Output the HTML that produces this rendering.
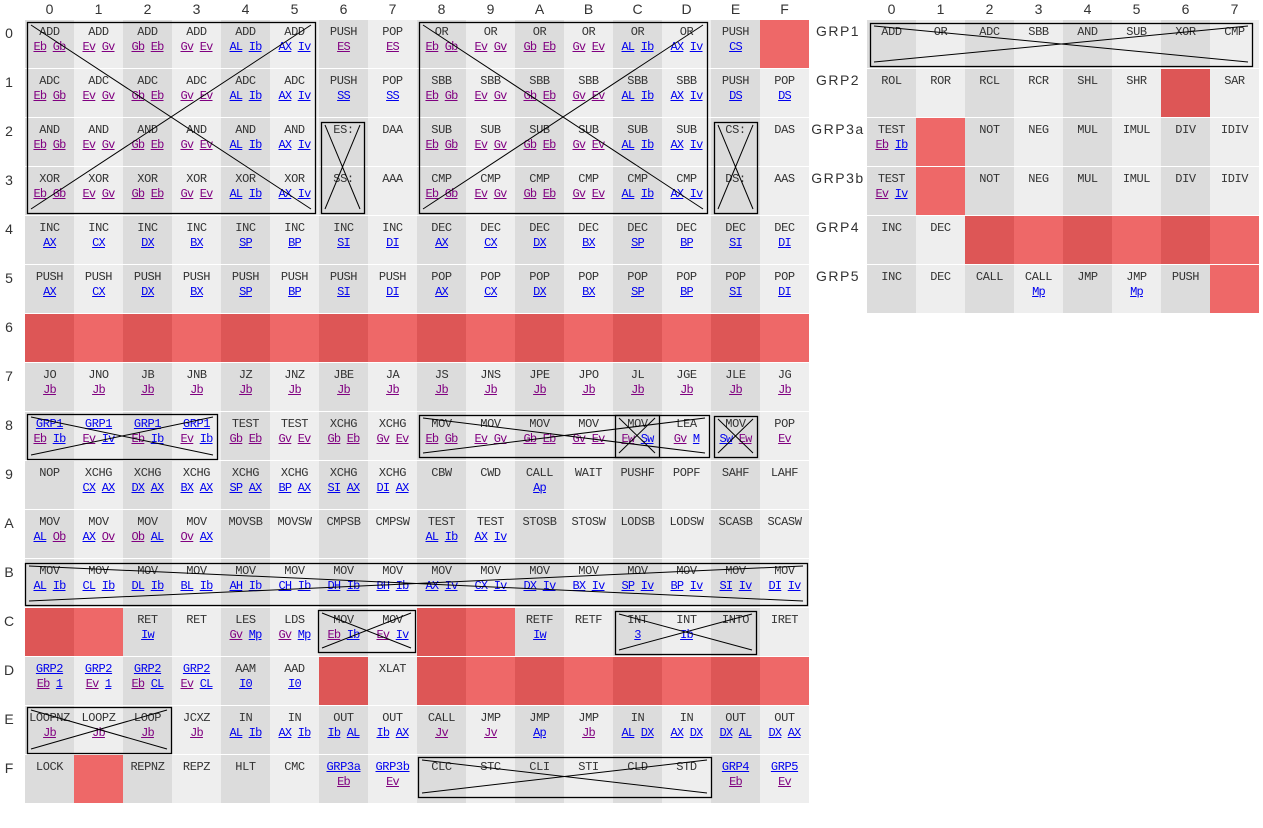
<!DOCTYPE html>
<html><head><meta charset="utf-8"><style>
body{margin:0;background:#fff;width:1263px;height:828px;position:relative;overflow:hidden;font-family:"Liberation Mono",monospace}
.c{position:absolute;width:49px;height:48px;text-align:center;color:#333;font-size:12px;line-height:15px}
.c .m{position:absolute;top:5px;left:0;width:49px;white-space:nowrap;letter-spacing:-0.4px}
.c .o{position:absolute;top:20px;left:0;width:49px;white-space:nowrap;letter-spacing:-0.8px}
.c a{text-decoration:underline;color:#0000ee}
.c a.p{color:#800080}
.h{position:absolute;font-family:"Liberation Sans",sans-serif;font-size:14px;color:#333;text-align:center}
svg{position:absolute;left:0;top:0}
</style></head><body>
<div id="root"></div>
<svg id="ov" width="1263" height="828"></svg>
<script>
const mainRows=[
["ADD Eb Gb","ADD Ev Gv","ADD Gb Eb","ADD Gv Ev","ADD AL Ib","ADD AX Iv","PUSH ES","POP ES","OR Eb Gb","OR Ev Gv","OR Gb Eb","OR Gv Ev","OR AL Ib","OR AX Iv","PUSH CS","#"],
["ADC Eb Gb","ADC Ev Gv","ADC Gb Eb","ADC Gv Ev","ADC AL Ib","ADC AX Iv","PUSH SS","POP SS","SBB Eb Gb","SBB Ev Gv","SBB Gb Eb","SBB Gv Ev","SBB AL Ib","SBB AX Iv","PUSH DS","POP DS"],
["AND Eb Gb","AND Ev Gv","AND Gb Eb","AND Gv Ev","AND AL Ib","AND AX Iv","ES:","DAA","SUB Eb Gb","SUB Ev Gv","SUB Gb Eb","SUB Gv Ev","SUB AL Ib","SUB AX Iv","CS:","DAS"],
["XOR Eb Gb","XOR Ev Gv","XOR Gb Eb","XOR Gv Ev","XOR AL Ib","XOR AX Iv","SS:","AAA","CMP Eb Gb","CMP Ev Gv","CMP Gb Eb","CMP Gv Ev","CMP AL Ib","CMP AX Iv","DS:","AAS"],
["INC AX","INC CX","INC DX","INC BX","INC SP","INC BP","INC SI","INC DI","DEC AX","DEC CX","DEC DX","DEC BX","DEC SP","DEC BP","DEC SI","DEC DI"],
["PUSH AX","PUSH CX","PUSH DX","PUSH BX","PUSH SP","PUSH BP","PUSH SI","PUSH DI","POP AX","POP CX","POP DX","POP BX","POP SP","POP BP","POP SI","POP DI"],
["#","#","#","#","#","#","#","#","#","#","#","#","#","#","#","#"],
["JO Jb","JNO Jb","JB Jb","JNB Jb","JZ Jb","JNZ Jb","JBE Jb","JA Jb","JS Jb","JNS Jb","JPE Jb","JPO Jb","JL Jb","JGE Jb","JLE Jb","JG Jb"],
["*GRP1 Eb Ib","*GRP1 Ev Iv","*GRP1 Eb Ib","*GRP1 Ev Ib","TEST Gb Eb","TEST Gv Ev","XCHG Gb Eb","XCHG Gv Ev","MOV Eb Gb","MOV Ev Gv","MOV Gb Eb","MOV Gv Ev","MOV Ew Sw","LEA Gv M","MOV Sw Ew","POP Ev"],
["NOP","XCHG CX AX","XCHG DX AX","XCHG BX AX","XCHG SP AX","XCHG BP AX","XCHG SI AX","XCHG DI AX","CBW","CWD","CALL Ap","WAIT","PUSHF","POPF","SAHF","LAHF"],
["MOV AL Ob","MOV AX Ov","MOV Ob AL","MOV Ov AX","MOVSB","MOVSW","CMPSB","CMPSW","TEST AL Ib","TEST AX Iv","STOSB","STOSW","LODSB","LODSW","SCASB","SCASW"],
["MOV AL Ib","MOV CL Ib","MOV DL Ib","MOV BL Ib","MOV AH Ib","MOV CH Ib","MOV DH Ib","MOV BH Ib","MOV AX Iv","MOV CX Iv","MOV DX Iv","MOV BX Iv","MOV SP Iv","MOV BP Iv","MOV SI Iv","MOV DI Iv"],
["#","#","RET Iw","RET","LES Gv Mp","LDS Gv Mp","MOV Eb Ib","MOV Ev Iv","#","#","RETF Iw","RETF","INT 3","INT Ib","INTO","IRET"],
["*GRP2 Eb 1","*GRP2 Ev 1","*GRP2 Eb CL","*GRP2 Ev CL","AAM I0","AAD I0","#","XLAT","#","#","#","#","#","#","#","#"],
["LOOPNZ Jb","LOOPZ Jb","LOOP Jb","JCXZ Jb","IN AL Ib","IN AX Ib","OUT Ib AL","OUT Ib AX","CALL Jv","JMP Jv","JMP Ap","JMP Jb","IN AL DX","IN AX DX","OUT DX AL","OUT DX AX"],
["LOCK","#","REPNZ","REPZ","HLT","CMC","*GRP3a Eb","*GRP3b Ev","CLC","STC","CLI","STI","CLD","STD","*GRP4 Eb","*GRP5 Ev"]];
const grpLabels=["GRP1","GRP2","GRP3a","GRP3b","GRP4","GRP5"];
const grpRows=[
["ADD","OR","ADC","SBB","AND","SUB","XOR","CMP"],
["ROL","ROR","RCL","RCR","SHL","SHR","#","SAR"],
["TEST Eb Ib","#","NOT","NEG","MUL","IMUL","DIV","IDIV"],
["TEST Ev Iv","#","NOT","NEG","MUL","IMUL","DIV","IDIV"],
["INC","DEC","#","#","#","#","#","#"],
["INC","DEC","CALL","CALL Mp","JMP","JMP Mp","PUSH","#"]];
const hex="0123456789ABCDEF";
const root=document.getElementById('root');
function cell(x,y,col,txt,name){
  const d=document.createElement('div');d.className='c';
  
  
  const red=txt==='#';
  d.style.left=x+'px';d.style.top=y+'px';
  d.style.background=red?(col%2?'#ee6868':'#dd5656'):(col%2?'#eeeeee':'#dcdcdc');
  if(!red){
    let parts=txt.split(' ');let m=parts.shift();let link=false;
    if(m[0]==='*'){link=true;m=m.slice(1);}
    const md=document.createElement('div');md.className='m';
    if(link){const a=document.createElement('a');a.textContent=m;
      
      
      md.appendChild(a);} else md.textContent=m;
    d.appendChild(md);
    if(parts.length){const od=document.createElement('div');od.className='o';
      parts.forEach((p,i)=>{const a=document.createElement('a');a.textContent=p;
        if(/^[EGOJ]/.test(p))a.className='p';
        
        
        od.appendChild(a);if(i<parts.length-1)od.appendChild(document.createTextNode(' '));});
      d.appendChild(od);}
  }
  root.appendChild(d);
}
function label(x,y,w,t,name){const d=document.createElement('div');d.className='h';
  
  
  d.style.left=x+'px';d.style.top=y+'px';d.style.width=w+'px';d.textContent=t;root.appendChild(d);}
for(let c=0;c<16;c++)label(25+c*49,1,49,hex[c],'column-header');
for(let r=0;r<16;r++){label(0,25+r*49,18,hex[r],'row-header');
  for(let c=0;c<16;c++)cell(25+c*49,20+r*49,c,mainRows[r][c],'opcode-cell');}
for(let c=0;c<8;c++)label(867+c*49,1,49,hex[c],'group-column-header');
for(let r=0;r<6;r++){const l=document.createElement('div');l.className='h';
  
  
  l.style.left='806px';l.style.top=(23+r*49)+'px';l.style.width='64px';l.style.letterSpacing='1.5px';l.textContent=grpLabels[r];root.appendChild(l);
  for(let c=0;c<8;c++)cell(867+c*49,20+r*49,c,grpRows[r][c],'group-cell');}
const boxes=[[27,22,315,213],[419,22,707,213],[321,122,364,213],[714,122,757,213],
[27,414,217,459],[419,415,709,457],[615,415,659,457],[714,416,757,457],
[25,563,807,605],[318,610,415,652],[615,611,756,654],[27,707,171,753],[418,757,711,797],[870,23,1252,66]];
const ov=document.getElementById('ov');
boxes.forEach(b=>{const [x1,y1,x2,y2]=b;
  const r=document.createElementNS('http://www.w3.org/2000/svg','rect');
  
  
  r.setAttribute('x',x1+.5);r.setAttribute('y',y1+.5);r.setAttribute('width',x2-x1);r.setAttribute('height',y2-y1);
  r.setAttribute('fill','none');r.setAttribute('stroke','#000');r.setAttribute('stroke-width','1.3');ov.appendChild(r);
  [[x1+4,y1+3,x2-4,y2-4],[x1+4,y2-4,x2-4,y1+3]].forEach(l=>{
    const ln=document.createElementNS('http://www.w3.org/2000/svg','line');
    
    
    ln.setAttribute('x1',l[0]);ln.setAttribute('y1',l[1]);ln.setAttribute('x2',l[2]);ln.setAttribute('y2',l[3]);
    ln.setAttribute('stroke','#000');ln.setAttribute('stroke-width','1');ov.appendChild(ln);});
});
</script>
</body></html>
